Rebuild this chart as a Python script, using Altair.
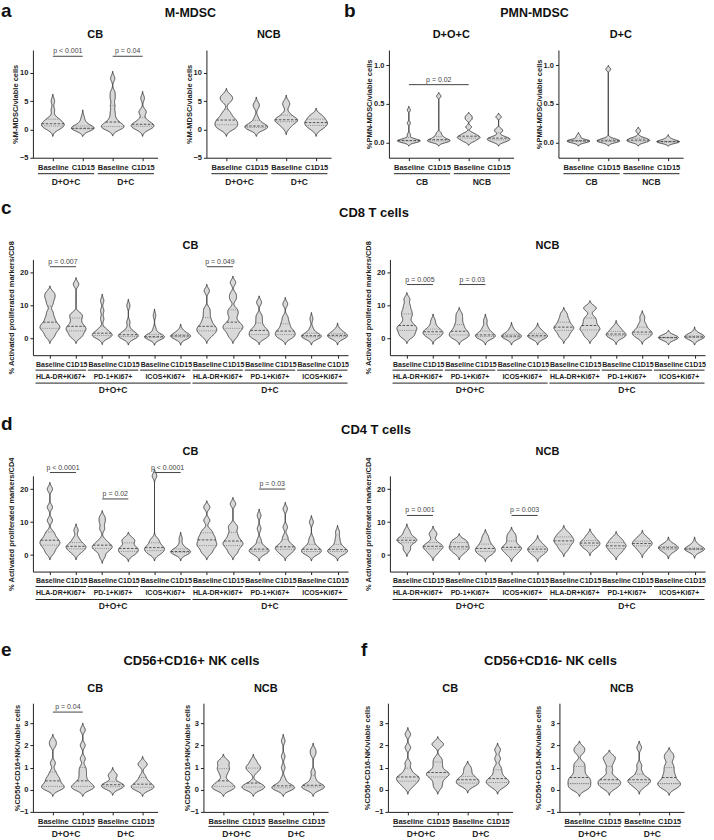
import altair as alt
import pandas as pd

FONT = "Liberation Sans"
INK = "#222222"
FILL = "#d9d9d9"

# ---------------- labels ----------------
pair_labels = ["Baseline", "C1D15"]
arm_labels = ["D+O+C", "D+C"]
benefit_labels = ["CB", "NCB"]
marker_labels = ["HLA-DR+Ki67+", "PD-1+Ki67+", "ICOS+Ki67+"]

# ---------------- values ----------------
# a  M-MDSC (% of viable cells): D+O+C Baseline, D+O+C C1D15, D+C Baseline, D+C C1D15
mmdsc_cb = [
    [0.0, 0.2, 0.4, 0.6, 0.8, 0.9, 1.0, 1.2, 1.5, 1.8, 2.0, 3.4, 5.0],
    [0.0, 0.05, 0.1, 0.1, 0.15, 0.2, 0.2, 0.3, 0.4, 0.6, 1.0, 1.4, 2.2],
    [0.1, 0.2, 0.4, 0.5, 0.7, 1.0, 1.3, 2.0, 3.0, 4.2, 5.5, 6.5, 9.0],
    [0.0, 0.2, 0.4, 0.6, 0.7, 0.8, 1.0, 1.3, 1.8, 3.0, 3.2, 5.5],
]
mmdsc_ncb = [
    [0.0, 0.3, 0.6, 0.9, 1.2, 1.5, 1.8, 2.3, 3.0, 5.0, 5.5, 6.0],
    [0.0, 0.1, 0.3, 0.4, 0.5, 0.6, 0.8, 1.2, 2.0, 4.0, 4.5],
    [0.3, 0.8, 1.2, 1.5, 1.6, 1.7, 1.9, 2.2, 2.8, 4.2, 4.8],
    [0.0, 0.4, 0.7, 1.0, 1.2, 1.4, 1.8, 2.2, 2.5],
]
mmdsc_cb_tests = [(0, 1, 12.9, "p < 0.001"), (2, 3, 12.9, "p = 0.04")]

# b  PMN-MDSC (% of viable cells): CB Baseline, CB C1D15, NCB Baseline, NCB C1D15
pmn_doc = [
    [0.0, 0.01, 0.01, 0.02, 0.02, 0.02, 0.03, 0.03, 0.05, 0.1, 0.25, 0.42],
    [0.0, 0.01, 0.02, 0.02, 0.03, 0.04, 0.06, 0.08, 0.12, 0.6],
    [0.01, 0.03, 0.05, 0.06, 0.07, 0.08, 0.1, 0.12, 0.2, 0.3, 0.34],
    [0.0, 0.02, 0.03, 0.04, 0.05, 0.06, 0.08, 0.14, 0.17, 0.33],
]
pmn_dc = [
    [0.0, 0.01, 0.015, 0.02, 0.02, 0.03, 0.08],
    [0.0, 0.01, 0.02, 0.02, 0.03, 0.05, 0.95],
    [0.0, 0.01, 0.02, 0.03, 0.03, 0.05, 0.06, 0.15],
    [0.0, 0.0, 0.005, 0.01, 0.01, 0.02, 0.05],
]
pmn_doc_tests = [(0, 2, 0.75, "p = 0.02")]

# c  CD8 T cells, activated/proliferating markers (% of CD8)
# order: D+O+C (HLA-DR, PD-1, ICOS) x (Baseline, C1D15), then D+C in the same order
cd8_cb = [
    [0.5, 1.5, 2.5, 3.0, 3.5, 4.0, 4.5, 5.5, 6.5, 8.0, 10.5, 12.0, 13.0, 14.0],
    [0.5, 1.0, 2.0, 2.5, 3.0, 3.5, 4.0, 5.0, 6.0, 7.0, 7.5, 16.5],
    [0.2, 0.5, 0.8, 1.0, 1.3, 1.5, 1.8, 2.5, 3.0, 6.0, 8.5, 11.5],
    [0.1, 0.3, 0.5, 0.8, 1.0, 1.2, 1.5, 2.0, 2.8, 5.0, 10.0],
    [0.0, 0.2, 0.3, 0.5, 0.5, 0.6, 0.8, 1.0, 1.5, 3.0, 7.0],
    [0.0, 0.3, 0.5, 0.6, 0.8, 0.9, 1.0, 1.3, 1.8, 2.5],
    [0.5, 1.5, 2.0, 2.5, 3.0, 3.5, 4.0, 5.0, 6.0, 7.5, 9.0, 14.5],
    [0.5, 1.5, 2.5, 3.0, 3.5, 4.0, 4.5, 5.5, 7.0, 8.0, 9.0, 12.0, 13.5, 17.0],
    [0.2, 0.5, 1.0, 1.5, 2.0, 2.5, 3.0, 4.0, 5.5, 7.0, 11.0],
    [0.2, 0.5, 1.0, 1.5, 2.0, 2.3, 3.0, 4.0, 5.0, 6.5, 10.5],
    [0.1, 0.3, 0.5, 0.7, 0.8, 1.0, 1.2, 1.8, 3.0, 6.0],
    [0.1, 0.3, 0.6, 0.8, 1.0, 1.2, 1.5, 2.0, 2.8],
]
cd8_ncb = [
    [0.5, 1.0, 1.8, 2.5, 3.0, 3.5, 4.0, 5.0, 6.5, 7.5, 8.5, 10.0, 12.0],
    [0.3, 0.8, 1.2, 1.5, 2.0, 2.2, 2.5, 3.0, 4.0, 5.5],
    [0.2, 0.5, 1.0, 1.5, 2.0, 2.5, 3.5, 4.5, 6.0, 7.5],
    [0.1, 0.3, 0.6, 0.8, 1.0, 1.3, 1.8, 2.5, 3.5, 5.5],
    [0.1, 0.3, 0.5, 0.7, 0.8, 1.0, 1.3, 2.0, 3.0],
    [0.1, 0.3, 0.5, 0.8, 0.9, 1.1, 1.5, 2.2, 2.8],
    [0.5, 1.5, 2.5, 3.0, 3.5, 4.0, 5.0, 6.0, 7.5],
    [0.5, 1.5, 2.5, 3.0, 3.5, 4.5, 5.5, 6.5, 9.0, 9.5],
    [0.2, 0.6, 1.0, 1.3, 1.5, 2.0, 2.8, 3.5],
    [0.3, 0.8, 1.3, 1.8, 2.0, 2.5, 3.5, 4.5, 6.5],
    [0.2, 0.25, 0.3, 0.35, 0.4, 0.5],
    [0.1, 0.3, 0.4, 0.5, 0.6, 0.8, 1.0, 1.6],
]
cd8_cb_tests = [(0, 1, 21.8, "p = 0.007"), (6, 7, 21.8, "p = 0.049")]
cd8_ncb_tests = [(0, 1, 16.4, "p = 0.005"), (2, 3, 16.4, "p = 0.03")]

# d  CD4 T cells, activated/proliferating markers (% of CD4)
cd4_cb = [
    [0.5, 1.5, 2.5, 3.0, 3.5, 4.0, 4.5, 5.0, 6.0, 7.0, 10.5, 14.5, 20.0],
    [0.5, 1.2, 1.8, 2.2, 2.5, 2.8, 3.2, 4.0, 5.0, 7.5],
    [-0.5, 1.0, 1.8, 2.2, 2.5, 3.0, 3.5, 4.5, 8.0, 10.0, 11.5],
    [0.0, 0.5, 1.0, 1.5, 1.8, 2.2, 2.8, 4.0, 4.5, 5.0],
    [0.2, 0.8, 1.2, 1.8, 2.0, 2.5, 3.0, 4.0, 4.8, 24.0],
    [0.2, 0.5, 0.8, 1.0, 1.0, 1.2, 1.5, 2.0, 3.0, 5.0],
    [0.5, 1.5, 2.5, 3.0, 3.5, 4.2, 5.0, 5.5, 6.5, 7.5, 10.5, 14.5],
    [0.5, 1.5, 2.5, 3.0, 3.5, 4.0, 4.5, 5.5, 6.5, 8.0, 9.0, 15.5],
    [0.2, 0.6, 1.0, 1.3, 1.5, 1.8, 2.2, 3.0, 4.5, 8.0, 12.0],
    [0.3, 0.8, 1.5, 2.0, 2.2, 2.5, 3.0, 4.0, 5.5, 8.5, 14.0],
    [0.2, 0.6, 1.0, 1.3, 1.5, 2.0, 2.5, 3.5, 5.0, 10.0],
    [0.2, 0.6, 1.0, 1.3, 1.5, 1.8, 2.5, 3.5, 5.0, 7.0],
]
cd4_ncb = [
    [1.5, 2.0, 3.5, 4.0, 4.3, 4.5, 4.8, 5.0, 5.5, 6.5, 7.5],
    [0.3, 1.0, 1.8, 2.2, 2.5, 2.8, 3.2, 4.0, 6.0, 6.8],
    [0.5, 1.2, 1.8, 2.2, 2.5, 3.0, 3.8, 4.2, 4.5],
    [0.0, 0.5, 1.0, 1.5, 1.8, 2.2, 2.8, 3.5, 4.5, 5.8],
    [0.0, 0.8, 1.5, 2.0, 2.2, 2.5, 3.5, 4.5, 5.5, 6.5],
    [0.0, 0.5, 1.0, 1.5, 1.8, 2.0, 2.5, 3.0, 4.0],
    [1.5, 2.5, 3.3, 4.0, 4.3, 4.8, 5.5, 6.0, 7.0],
    [1.8, 2.5, 3.0, 3.5, 3.8, 4.2, 5.0, 6.0],
    [0.5, 1.2, 2.0, 2.5, 2.8, 3.2, 3.8, 4.5, 5.2],
    [1.2, 2.0, 2.8, 3.2, 3.5, 3.8, 4.2, 5.0, 5.5],
    [0.8, 1.5, 2.0, 2.2, 2.4, 2.8, 3.5],
    [1.0, 1.5, 1.7, 1.8, 1.9, 2.0, 2.5, 3.5],
]
cd4_cb_tests = [(0, 1, 25.0, "p < 0.0001"), (2, 3, 17.0, "p = 0.02"),
                (4, 5, 25.0, "p < 0.0001"), (8, 9, 20.0, "p = 0.03")]
cd4_ncb_tests = [(0, 1, 12.0, "p = 0.001"), (4, 5, 12.0, "p = 0.003")]

# e  CD56+CD16+ NK cells (% of viable cells)
nk16p_cb = [
    [0.0, 0.05, 0.1, 0.15, 0.2, 0.3, 0.4, 0.5, 0.6, 0.8, 1.2, 2.0, 2.2],
    [0.0, 0.05, 0.1, 0.15, 0.2, 0.3, 0.4, 0.6, 0.8, 1.0, 1.4, 2.0, 2.7],
    [0.05, 0.1, 0.15, 0.2, 0.25, 0.3, 0.6, 0.7],
    [0.0, 0.05, 0.1, 0.15, 0.2, 0.3, 0.4, 0.6, 1.1, 1.2],
]
nk16p_ncb = [
    [0.0, 0.05, 0.1, 0.2, 0.25, 0.4, 0.7, 0.9, 1.0, 1.2, 1.3],
    [0.0, 0.05, 0.1, 0.15, 0.2, 0.3, 0.8, 0.95, 1.0, 1.1, 1.3],
    [0.0, 0.02, 0.05, 0.1, 0.1, 0.15, 0.2, 0.3, 0.5, 1.0, 1.5, 2.2],
    [0.0, 0.05, 0.1, 0.15, 0.15, 0.2, 0.3, 0.5, 0.8, 1.6, 1.8],
]
nk16p_cb_tests = [(0, 1, 3.5, "p = 0.04")]

# f  CD56+CD16- NK cells (% of viable cells)
nk16n_cb = [
    [0.1, 0.25, 0.35, 0.4, 0.5, 0.55, 0.6, 0.7, 0.9, 1.2, 1.9, 2.5],
    [0.1, 0.3, 0.5, 0.6, 0.7, 0.75, 0.8, 1.0, 1.2, 1.4, 2.0, 2.1],
    [0.15, 0.25, 0.3, 0.35, 0.45, 0.5, 0.6, 0.8, 1.0],
    [0.1, 0.2, 0.3, 0.35, 0.4, 0.5, 0.6, 0.8, 1.0, 1.4, 1.8],
]
nk16n_ncb = [
    [0.0, 0.1, 0.2, 0.3, 0.4, 0.5, 0.6, 0.8, 1.0, 1.2, 1.7, 1.9],
    [0.05, 0.15, 0.25, 0.3, 0.4, 0.45, 0.6, 0.9, 1.2, 1.4, 1.5],
    [0.1, 0.2, 0.3, 0.35, 0.4, 0.45, 0.5, 0.6, 0.8, 1.1, 1.9],
    [0.05, 0.15, 0.25, 0.3, 0.4, 0.55, 0.7, 0.9, 1.1, 1.4, 1.6],
]

blank = pd.DataFrame({"k": [0]})
LEFT = 33  # every row starts its first plot this far from the page edge


def long_table(groups):
    return pd.DataFrame([{"pos": i, "value": v} for i, vals in enumerate(groups) for v in vals])


def pairs(labels, size=2):
    return [(lab, i * size, i * size + size - 1) for i, lab in enumerate(labels)]


SMALL = dict(width=125, xdom=[-0.667, 3.5], lab_pad=3, tick_font=7.5, left=0.5, right=0.38,
             levels=[(16, 24, 8.5)])
WIDE = dict(width=316, xdom=[-0.65, 11.4], lab_pad=2, tick_font=7, left=0.55, right=0.38,
            levels=[(15, 21.5, 7), (28, 34.5, 8.5)])


def frame(left, right, top, bottom, width, height):
    # invisible diagonal that fixes the outer extent of a view inside the concat layout
    return alt.Chart(blank).mark_rule(strokeOpacity=0, strokeWidth=0).encode(
        x=alt.value(-left), x2=alt.value(width + right),
        y=alt.value(-top), y2=alt.value(height + bottom))


def panel(groups, layout, *, height, ydom, yticks, ytitle, bw, ext, spans, subtitle, sub_dy,
          box, yext, tests=(), yfmt=None, level_shift=0):
    n = len(groups)
    width = layout["width"]
    half = 0.38
    xs = alt.Scale(domain=layout["xdom"], nice=False, zero=False)
    ys = alt.Scale(domain=ydom, nice=False, zero=False)
    label_expr = f"datum.value % 2 == 0 ? '{pair_labels[0]}' : '{pair_labels[1]}'"
    xaxis = alt.Axis(values=list(range(n)), labelExpr=label_expr, title=None, grid=False,
                     tickSize=3, labelPadding=layout["lab_pad"], labelFontSize=layout["tick_font"],
                     labelFontWeight="bold", labelOverlap=False, labelFlush=False)
    ykw = dict(values=yticks, title=ytitle, grid=False, tickSize=3, labelPadding=2,
               labelFontSize=7.5, labelFontWeight="bold", titleFontSize=7.5,
               titleFontWeight="bold", titlePadding=3, minExtent=yext, maxExtent=yext)
    if yfmt:
        ykw["format"] = yfmt
    yaxis = alt.Axis(**ykw)

    def X(f):
        return alt.X(f, type="quantitative", scale=xs, axis=xaxis)

    def Y(f):
        return alt.Y(f, type="quantitative", scale=ys, axis=yaxis)

    tail = 2.5 * bw
    base = (
        alt.Chart(long_table(groups))
        .transform_joinaggregate(lo="min(value)", hi="max(value)", q1="q1(value)",
                                 med="median(value)", q3="q3(value)", groupby=["pos"])
        .transform_density("value", groupby=["pos", "lo", "hi", "q1", "med", "q3"],
                           bandwidth=bw, extent=ext, steps=500, as_=["v", "d"])
        .transform_filter(f"datum.v >= datum.lo - {tail} && datum.v <= datum.hi + {tail}")
        .transform_joinaggregate(dmax="max(d)", groupby=["pos"])
        .transform_calculate(xl=f"datum.pos - {half} * datum.d / datum.dmax",
                             xr=f"datum.pos + {half} * datum.d / datum.dmax")
    )
    layers = [
        base.mark_area(orient="horizontal", fill=FILL, stroke=INK, strokeWidth=0.8).encode(
            y=Y("v"), x=X("xl"), x2="xr", detail="pos:N")
    ]

    def qline(field, dash, color):
        return (
            base.transform_calculate(dist=f"abs(datum.v - datum.{field})")
            .transform_joinaggregate(mind="min(dist)", groupby=["pos"])
            .transform_filter("datum.dist == datum.mind")
            .mark_rule(strokeDash=dash, color=color, strokeWidth=0.8)
            .encode(x=X("xl"), x2="xr", y=Y(field))
        )

    layers += [qline("q1", [1, 1.2], "#777777"), qline("q3", [1, 1.2], "#777777"),
               qline("med", [2.5, 1.5], "#333333")]

    if tests:
        tdf = pd.DataFrame([{"a": a, "b": b, "y": y, "label": lab} for a, b, y, lab in tests])
        tb = alt.Chart(tdf)
        layers += [
            tb.mark_rule(color="#444444", strokeWidth=1).encode(x=X("a"), x2="b", y=Y("y")),
            tb.transform_calculate(m="(datum.a + datum.b) / 2")
            .mark_text(fontSize=7, color="#444444", baseline="bottom", dy=-2, font=FONT)
            .encode(x=X("m"), y=Y("y"), text="label:N"),
        ]

    for items, (line_off, text_off, size) in zip(spans, layout["levels"]):
        sdf = pd.DataFrame([{"a": a, "b": b, "label": lab} for lab, a, b in items])
        sb = alt.Chart(sdf).transform_calculate(
            x0=f"datum.a - {layout['left']}", x1=f"datum.b + {layout['right']}",
            m=f"(datum.a + datum.b - {layout['left']} + {layout['right']}) / 2")
        layers += [
            sb.mark_rule(color=INK, strokeWidth=1).encode(
                x=X("x0"), x2="x1", y=alt.value(height + line_off + level_shift)),
            sb.mark_text(fontSize=size, fontWeight="bold", color=INK, font=FONT,
                         baseline="middle").encode(
                x=X("m"), y=alt.value(height + text_off + level_shift), text="label:N"),
        ]

    layers.append(
        alt.Chart(blank).mark_text(text=subtitle, fontSize=11, fontWeight="bold", font=FONT,
                                   color="#111111", baseline="middle")
        .encode(x=alt.value(width / 2), y=alt.value(sub_dy)))
    layers.append(frame(*box, width, height))
    return alt.layer(*layers).properties(width=width, height=height)


def header(height, texts):
    # a band of headings; x positions are given from the page edge
    layers = []
    for txt, px, py, size, align, baseline in texts:
        layers.append(
            alt.Chart(blank).mark_text(text=txt, fontSize=size, fontWeight="bold", align=align,
                                       baseline=baseline, font=FONT, color="#111111")
            .encode(x=alt.value(px - LEFT), y=alt.value(py)))
    layers.append(frame(LEFT, 0, 0, 0, 714 - LEFT, height))
    return alt.layer(*layers).properties(width=714 - LEFT, height=height)


def letter(t, x, y):
    return (t, x, y, 19, "left", "alphabetic")


def title(t, x, y, size=13):
    return (t, x, y, size, "center", "middle")


# ---- row 1: M-MDSC and PMN-MDSC ----
a_kw = dict(height=108, ydom=[-5, 14], yticks=[-5, 0, 5, 10], ytitle="%M-MDSC/viable cells",
            bw=0.5, ext=[-5, 16], spans=[pairs(arm_labels)], sub_dy=-15, yext=10)
a_cb = panel(mmdsc_cb, SMALL, tests=mmdsc_cb_tests, subtitle="CB", box=(33, 24, 23, 33), **a_kw)
a_ncb = panel(mmdsc_ncb, SMALL, subtitle="NCB", box=(25, 25, 23, 33), **a_kw)

b_kw = dict(height=108, ydom=[-0.2, 1.2], yticks=[0, 0.5, 1.0], yfmt=".1f",
            ytitle="%PMN-MDSC/viable cells", bw=0.02, ext=[-0.2, 1.2],
            spans=[pairs(benefit_labels)], sub_dy=-15, yext=12)
b_doc = panel(pmn_doc, SMALL, tests=pmn_doc_tests, subtitle="D+O+C", box=(33, 20, 23, 33), **b_kw)
b_dc = panel(pmn_dc, SMALL, subtitle="D+C", box=(25, 29, 23, 33), **b_kw)

# ---- rows 2 and 3: CD8 and CD4 T cells ----
wide_spans = [pairs(marker_labels * 2), pairs(arm_labels, 6)]
c_kw = dict(height=96, ydom=[-5, 24], yticks=[0, 10, 20], bw=0.8, ext=[-5, 28],
            spans=wide_spans, ytitle="% Activated proliferated markers/CD8", sub_dy=-13, yext=14)
c_cb = panel(cd8_cb, WIDE, tests=cd8_cb_tests, subtitle="CB", box=(33, 16, 29, 42), **c_kw)
c_ncb = panel(cd8_ncb, WIDE, tests=cd8_ncb_tests, subtitle="NCB", box=(24, 9, 29, 42), **c_kw)

d_kw = dict(c_kw, ytitle="% Activated proliferated markers/CD4", sub_dy=-24)
d_cb = panel(cd4_cb, WIDE, tests=cd4_cb_tests, subtitle="CB", box=(33, 16, 36, 40), **d_kw)
d_ncb = panel(cd4_ncb, WIDE, tests=cd4_ncb_tests, subtitle="NCB", box=(24, 9, 36, 40), **d_kw)

# ---- row 4: NK cells ----
e_kw = dict(height=109, ydom=[-1, 3.9], yticks=[-1, 0, 1, 2, 3], bw=0.12, ext=[-1, 4],
            spans=[pairs(arm_labels)], level_shift=-1.5, sub_dy=-14)
e_cb = panel(nk16p_cb, SMALL, tests=nk16p_cb_tests, ytitle="%CD56+CD16+NK/viable cells",
             subtitle="CB", box=(33, 23, 32, 27), yext=8, **e_kw)
e_ncb = panel(nk16p_ncb, SMALL, ytitle="%CD56+CD16+NK/viable cells",
              subtitle="NCB", box=(23, 30, 32, 27), yext=8.5, **e_kw)
f_cb = panel(nk16n_cb, SMALL, ytitle="%CD56+CD16-NK/viable cells",
             subtitle="CB", box=(30, 22, 32, 27), yext=13.5, **e_kw)
f_ncb = panel(nk16n_ncb, SMALL, ytitle="%CD56+CD16-NK/viable cells",
              subtitle="NCB", box=(23, 30, 32, 27), yext=13.5, **e_kw)

# ---- headings between the rows of panels ----
head_ab = header(26, [letter("a", 1, 16), title("M-MDSC", 191, 12, 12.5),
                      letter("b", 345, 16), title("PMN-MDSC", 536, 12, 12.5)])
head_c = header(40, [letter("c", 1, 23), title("CD8 T cells", 375, 22)])
head_d = header(43, [letter("d", 1, 33), title("CD4 T cells", 377, 33)])
head_ef = header(60, [letter("e", 1, 45), title("CD56+CD16+ NK cells", 192, 50),
                      letter("f", 362, 45), title("CD56+CD16- NK cells", 552, 50)])

chart = (
    alt.vconcat(
        head_ab,
        alt.hconcat(a_cb, a_ncb, b_doc, b_dc, spacing=0),
        head_c,
        alt.hconcat(c_cb, c_ncb, spacing=0),
        head_d,
        alt.hconcat(d_cb, d_ncb, spacing=0),
        head_ef,
        alt.hconcat(e_cb, e_ncb, f_cb, f_ncb, spacing=0),
        spacing=0,
    )
    .properties(padding=0)
    .configure_view(stroke=None)
    .configure_axis(domainColor=INK, tickColor=INK, labelColor=INK, titleColor=INK,
                    labelFont=FONT, titleFont=FONT, domainWidth=1, tickWidth=1)
)

chart.save("out.html", embed_options={"renderer": "svg", "actions": False})
